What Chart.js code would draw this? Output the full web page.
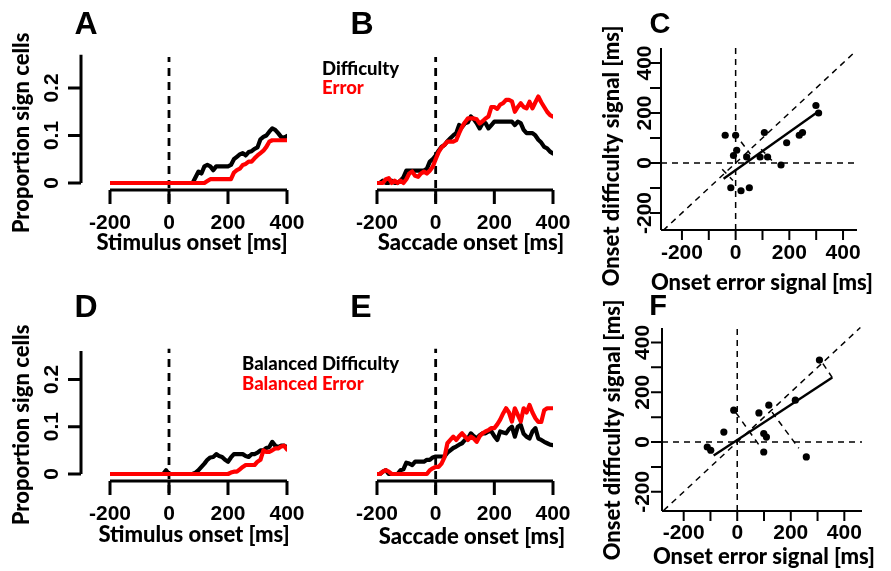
<!DOCTYPE html>
<html>
<head>
<meta charset="utf-8">
<script src="https://cdn.jsdelivr.net/npm/chart.js@4.4.0/dist/chart.umd.min.js"></script>
<style>
  html, body { margin: 0; background: #fff; }
  #wrap { position: relative; width: 891px; height: 571px; }
  #wrap canvas { position: absolute; left: 0; top: 0; }
</style>
</head>
<body>
<div id="wrap"></div>
<script>
/* Six panels: A/B/D/E proportion of significant cells over time, C/F onset scatter.
   Each panel is its own Chart.js chart on a full-page transparent canvas; the
   layout padding puts the chart area where the panel's data region sits. */
const W = 891, H = 571;
const RED = "#ff0000";

// time axis, ms (10 ms bins)
const TIME = [-200,-190,-180,-170,-160,-150,-140,-130,-120,-110,-100,-90,-80,-70,-60,-50,-40,-30,-20,-10,
  0,10,20,30,40,50,60,70,80,90,100,110,120,130,140,150,160,170,180,190,200,210,220,230,240,250,260,270,280,290,
  300,310,320,330,340,350,360,370,380,390,400];

// A: stimulus aligned
const A_DIFF = [0,0,0,0,0,0,0,0,0,0,0,0,0,0,0,0,0,0,0,0,0,0,0,0,0,0,0,0,
  0,0.012,0.024,0.02,0.035,0.038,0.035,0.027,0.035,0.035,0.035,0.035,0.035,0.038,0.05,0.055,0.06,0.063,0.058,
  0.065,0.067,0.072,0.075,0.092,0.097,0.1,0.108,0.115,0.112,0.105,0.097,0.095,0.099];
const A_ERR = [0,0,0,0,0,0,0,0,0,0,0,0,0,0,0,0,0,0,0,0,0,0,0,0,0,0,0,0,0,0,0,0,0,
  0.004,0.008,0.008,0.008,0.008,0.008,0.008,0.008,0.008,
  0.022,0.027,0.03,0.038,0.04,0.045,0.045,0.052,0.058,0.063,0.068,0.076,0.087,0.09,
  0.09,0.09,0.09,0.09,0.09];

// B: saccade aligned
const B_DIFF = [0,0,0.005,0,0,0.005,0,0,0.005,0.012,0.026,0.026,0.026,0.026,0.026,0.026,0.026,0.03,0.045,0.05,
  0.058,0.068,0.076,0.08,0.088,0.094,0.1,0.105,0.122,0.118,0.126,0.128,0.14,0.134,0.126,0.115,0.126,0.126,0.115,0.122,
  0.129,0.129,0.129,0.129,0.129,0.129,0.129,0.122,0.129,0.126,
  0.112,0.105,0.105,0.105,0.1,0.091,0.085,0.076,0.073,0.066,0.062];
const B_ERR = [0,0,0,0.008,0.01,0,0.005,0,0.005,0,0.008,0.02,0.024,0.015,0.013,0.02,0.024,0.02,0.026,0.034,
  0.05,0.065,0.075,0.08,0.087,0.087,0.087,0.09,0.105,0.118,0.128,0.136,0.136,0.136,0.134,0.125,0.13,0.136,0.14,0.16,
  0.16,0.156,0.165,0.168,0.175,0.175,0.172,0.15,0.16,0.168,
  0.16,0.157,0.171,0.157,0.17,0.182,0.17,0.16,0.15,0.143,0.14];

// D: balanced, stimulus aligned
const D_DIFF = [0,0,0,0,0,0,0,0,0,0,0,0,0,0,0,0,0,0,0,0.008,0,0,0,0,0,0,0,0,0,
  0.003,0.008,0.015,0.022,0.03,0.035,0.036,0.042,0.038,0.036,0.03,0.026,0.035,0.042,0.042,0.042,0.042,0.038,0.036,0.042,
  0.042,0.045,0.05,0.05,0.055,0.057,0.068,0.06,0.057,0.06,0.06,0.057];
const D_ERR = [0,0,0,0,0,0,0,0,0,0,0,0,0,0,0,0,0,0,0,0,0,0,0,0,0,0,0,0,0,0,0,0,0,0,0,0,0,0,0,0,0,
  0.003,0.005,0.005,0.01,0.015,0.019,0.019,0.019,0.019,0.026,0.03,0.05,0.047,0.047,0.05,0.054,0.054,0.058,0.06,0.052];

// E: balanced, saccade aligned
const E_DIFF = [0,0,0.005,0.008,0,0,0,0,0.008,0.01,0.024,0.022,0.019,0.026,0.026,0.026,0.026,0.03,0.03,0.035,
  0.037,0.037,0.037,0.037,0.045,0.05,0.055,0.058,0.062,0.065,0.072,0.075,0.086,0.08,0.075,0.082,0.086,0.086,0.09,0.09,
  0.08,0.072,0.09,0.088,0.086,0.095,0.1,0.079,0.1,0.104,
  0.085,0.079,0.075,0.09,0.097,0.075,0.072,0.068,0.065,0.062,0.061];
const E_ERR = [0,0,0.005,0.008,0.005,0,0,0,0,0,0,0,0,0,0,0,0,0,0.008,0.012,
  0.015,0.015,0.022,0.035,0.065,0.072,0.079,0.072,0.08,0.086,0.079,0.072,0.079,0.075,0.068,0.08,0.086,0.09,0.093,0.097,
  0.097,0.105,0.115,0.128,0.139,0.13,0.111,0.139,0.125,0.111,
  0.139,0.13,0.146,0.13,0.118,0.11,0.11,0.135,0.139,0.139,0.139];

const T_TICKS = [-200, 0, 200, 400];
const P_TICKS = [0, 0.1, 0.2];
const P_LABELS = ["0", "0.1", "0.2"];
const ONSET_LINE = [-0.04, 0.265];   // dashed line at t = 0, y extent

// C: onset of error signal vs onset of difficulty signal (ms)
const C_ERR  = [-39, 0, 4, -8, 41, 107, 91, 119, 190, 169, 237, 249, 299, 309, -18, 20, 51];
const C_DIFF = [111, 111, 51, 30, 24, 122, 24, 24, 81, -8, 111, 122, 230, 200, -99, -111, -99];
const C_FIT  = [[-45, -63], [304, 203]];
const C_UNITY = [-270, 445];
const C_GUIDES = [[[20, 85], [55, 35]], [[95, 55], [135, 10]], [[-50, -25], [-10, -70]]];

// F: balanced
const F_ERR  = [-112, -99, -50, -13, 81, 118, 217, 99, 109, 99, 258, 307];
const F_DIFF = [-20, -33, 40, 128, 117, 148, 168, 34, 20, -40, -60, 329];
const F_FIT  = [[-88, -54], [355, 259]];
const F_UNITY = [-275, 460];
const F_GUIDES = [[[-5, 118], [80, -10]], [[130, 120], [230, -25]], [[320, 315], [355, 259]]];

const S_TICKS = [-200, -100, 0, 100, 200, 300, 400];
const S_LABELS = [-200, 0, 200, 400];

const TICK_FONT = 'bold 21px "Liberation Sans", Arial, sans-serif';
const TITLE_FONT = '900 22px Lato, "Open Sans", sans-serif';
const LEG_FONT = '900 18.5px Lato, "Open Sans", sans-serif';
const LETTER_FONT = 'bold 32px "Liberation Sans", Arial, sans-serif';
const LETTER_FONT_S = 'bold 29px "Liberation Sans", Arial, sans-serif';

const pairs = (xs, ys) => xs.map((x, i) => ({ x, y: ys[i] }));

function text(ctx, t, x, y, font, color, rot, align) {
  ctx.save();
  ctx.translate(x, y);
  if (rot) ctx.rotate(rot);
  ctx.font = font; ctx.fillStyle = color || "#000";
  ctx.textAlign = align || "center"; ctx.textBaseline = "middle";
  ctx.fillText(t, 0, 0);
  ctx.restore();
}

// R-style detached axes drawn with the chart's own scales
const rAxes = {
  id: "rAxes",
  afterDraw(chart, args, o) {
    const { ctx, chartArea: ca, scales: { x, y } } = chart;
    ctx.save();
    ctx.strokeStyle = "#000"; ctx.lineCap = "butt";
    if (o.x) {
      const a = o.x, yy = ca.bottom + (a.offset || 0);
      const from = a.from ?? x.min, to = a.to ?? x.max;
      ctx.lineWidth = a.width;
      ctx.beginPath();
      ctx.moveTo(x.getPixelForValue(from), yy); ctx.lineTo(x.getPixelForValue(to), yy);
      a.ticks.forEach(v => { const px = x.getPixelForValue(v); ctx.moveTo(px, yy); ctx.lineTo(px, yy + a.tickLen); });
      ctx.stroke();
      a.labels.forEach((v, i) => text(ctx, a.text ? a.text[i] : String(v), x.getPixelForValue(v), yy + a.labelOff, TICK_FONT));
    }
    if (o.y) {
      const a = o.y, xx = ca.left + (a.offset || 0);
      const from = a.from ?? y.min, to = a.to ?? y.max;
      ctx.lineWidth = a.width;
      ctx.beginPath();
      ctx.moveTo(xx, y.getPixelForValue(from)); ctx.lineTo(xx, y.getPixelForValue(to));
      a.ticks.forEach(v => { const py = y.getPixelForValue(v); ctx.moveTo(xx, py); ctx.lineTo(xx - a.tickLen, py); });
      ctx.stroke();
      a.labels.forEach((v, i) => text(ctx, a.text ? a.text[i] : String(v), xx + a.labelOff, y.getPixelForValue(v), TICK_FONT, "#000", -Math.PI / 2));
    }
    (o.texts || []).forEach(t => text(ctx, t.t, t.x, t.y, t.font, t.color, t.rot, t.align));
    ctx.restore();
  }
};

function canvas() {
  const c = document.createElement("canvas");
  c.width = W; c.height = H;
  document.getElementById("wrap").appendChild(c);
  return c;
}

const baseOpts = (box, xs, ys, axes) => ({
  responsive: false, animation: false, events: [],
  layout: { padding: { left: box.l, right: W - box.r, top: box.t, bottom: H - box.b } },
  scales: {
    x: { type: "linear", display: false, min: xs[0], max: xs[1] },
    y: { type: "linear", display: false, min: ys[0], max: ys[1] },
  },
  plugins: { legend: { display: false }, tooltip: { enabled: false }, rAxes: axes },
});

function timePanel(box, red, black, axes) {
  const line = (data, color) => ({ data, borderColor: color, borderWidth: 4.2, pointRadius: 0,
    borderCapStyle: "round", borderJoinStyle: "round", tension: 0 });
  return new Chart(canvas(), {
    type: "line",
    data: { datasets: [
      line(pairs(TIME, red), RED),
      line(pairs(TIME, black), "#000"),
      { data: ONSET_LINE.map(v => ({ x: 0, y: v })), borderColor: "#000", borderWidth: 2.8,
        borderDash: [8, 6], pointRadius: 0, clip: false },
    ] },
    options: baseOpts(box, [-200, 400], [-0.015, 0.27], axes),
    plugins: [rAxes],
  });
}

function scatterPanel(box, xs, ys, ex, dy, fit, unity, guides, axes) {
  const dashed = (pts) => ({ type: "line", data: pts.map(p => ({ x: p[0], y: p[1] })), borderColor: "#000",
    borderWidth: 1.5, borderDash: [6, 5], pointRadius: 0, clip: false });
  return new Chart(canvas(), {
    type: "scatter",
    data: { datasets: [
      { data: pairs(ex, dy), backgroundColor: "#000", borderColor: "#000", pointRadius: 3.6, borderWidth: 0 },
      { type: "line", data: fit.map(p => ({ x: p[0], y: p[1] })), borderColor: "#000", borderWidth: 2.4, pointRadius: 0 },
      dashed([[unity[0], unity[0]], [unity[1], unity[1]]]),
      dashed([[xs[0], 0], [xs[1], 0]]),
      dashed([[0, ys[0]], [0, ys[1]]]),
      ...guides.map(dashed),
    ] },
    options: baseOpts(box, xs, ys, axes),
    plugins: [rAxes],
  });
}

const tAxisX = { from: -200, to: 400, ticks: T_TICKS, labels: T_TICKS, tickLen: 14, labelOff: 33, width: 3 };
const pAxisY = top => ({ offset: -29, from: 0, to: top, ticks: P_TICKS, labels: P_TICKS, text: P_LABELS,
  tickLen: 13, labelOff: -29, width: 3 });

// A
timePanel({ l: 110, r: 287, t: 54.75, b: 190.1 }, A_ERR, A_DIFF, {
  x: tAxisX, y: pAxisY(0.27),
  texts: [
    { t: "A", x: 86, y: 25, font: LETTER_FONT },
    { t: "Proportion sign cells", x: 22, y: 133, font: TITLE_FONT, rot: -Math.PI / 2 },
    { t: "Stimulus onset [ms]", x: 192, y: 243, font: TITLE_FONT },
  ],
});
// B
timePanel({ l: 377, r: 553, t: 54.75, b: 190.1 }, B_ERR, B_DIFF, {
  x: tAxisX,
  texts: [
    { t: "B", x: 362, y: 25, font: LETTER_FONT },
    { t: "Difficulty", x: 322, y: 69, font: LEG_FONT, align: "left" },
    { t: "Error", x: 322, y: 88, font: LEG_FONT, color: RED, align: "left" },
    { t: "Saccade onset [ms]", x: 471, y: 243, font: TITLE_FONT },
  ],
});
// D
timePanel({ l: 110, r: 287, t: 346.3, b: 481.1 }, D_ERR, D_DIFF, {
  x: tAxisX, y: pAxisY(0.26),
  texts: [
    { t: "D", x: 86, y: 308, font: LETTER_FONT },
    { t: "Proportion sign cells", x: 22, y: 425, font: TITLE_FONT, rot: -Math.PI / 2 },
    { t: "Stimulus onset [ms]", x: 194, y: 535, font: TITLE_FONT },
    { t: "Balanced Difficulty", x: 242, y: 364, font: LEG_FONT, align: "left" },
    { t: "Balanced Error", x: 242, y: 384, font: LEG_FONT, color: RED, align: "left" },
  ],
});
// E
timePanel({ l: 377, r: 553, t: 346.3, b: 481.1 }, E_ERR, E_DIFF, {
  x: tAxisX,
  texts: [
    { t: "E", x: 361, y: 308, font: LETTER_FONT },
    { t: "Saccade onset [ms]", x: 472, y: 537, font: TITLE_FONT },
  ],
});

const sAxes = (lx, ly, letter, pos) => ({
  x: { ticks: S_TICKS, labels: S_LABELS, tickLen: 10, labelOff: lx, width: 2 },
  y: { offset: 0, ticks: S_TICKS, labels: S_LABELS, tickLen: 11, labelOff: ly, width: 2 },
  texts: [
    { t: letter, x: pos.lx, y: pos.ly, font: LETTER_FONT_S },
    { t: "Onset difficulty signal [ms]", x: pos.yx, y: pos.yy, font: TITLE_FONT, rot: -Math.PI / 2 },
    { t: "Onset error signal [ms]", x: pos.xx, y: pos.xy, font: TITLE_FONT },
  ],
});

// C
scatterPanel({ l: 661, r: 857, t: 48, b: 230 }, [-278, 452], [-268, 460],
  C_ERR, C_DIFF, C_FIT, C_UNITY, C_GUIDES,
  sAxes(23, -16, "C", { lx: 660, ly: 25, yx: 612, yy: 156, xx: 762, xy: 283 }));
// F
scatterPanel({ l: 662, r: 862, t: 328, b: 511 }, [-281, 466], [-277, 458],
  F_ERR, F_DIFF, F_FIT, F_UNITY, F_GUIDES,
  sAxes(22, -19, "F", { lx: 658, ly: 307, yx: 613, yy: 430, xx: 764, xy: 557 }));
</script>
</body>
</html>
